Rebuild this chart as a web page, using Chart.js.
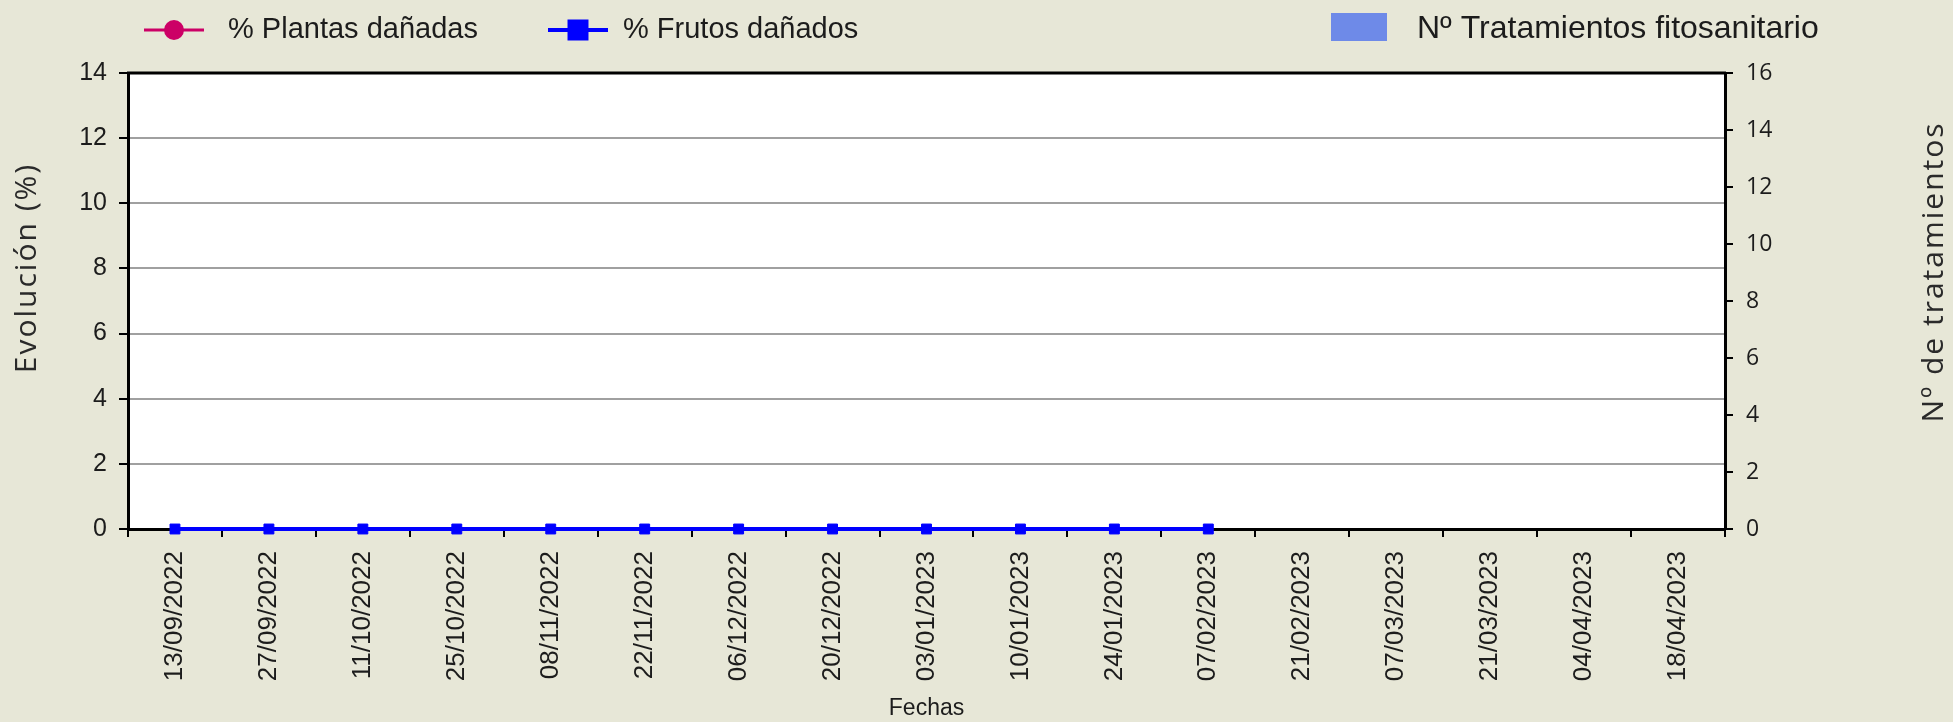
<!DOCTYPE html>
<html>
<head>
<meta charset="utf-8">
<title>Evolución</title>
<script src="https://cdn.jsdelivr.net/npm/chart.js@4.4.1/dist/chart.umd.min.js"></script>
<style>
    html, body { margin: 0; padding: 0; background: #e7e7d7; }
    #wrap { width: 1953px; height: 722px; }
</style>
</head>
<body>
<div id="wrap"><canvas id="evolucionChart" width="1953" height="722"></canvas></div>
<script>
// Datos
const fechas = [
    '13/09/2022', '27/09/2022', '11/10/2022', '25/10/2022', '08/11/2022', '22/11/2022',
    '06/12/2022', '20/12/2022', '03/01/2023', '10/01/2023', '24/01/2023', '07/02/2023',
    '21/02/2023', '07/03/2023', '21/03/2023', '04/04/2023', '18/04/2023'
];
const plantasDanadas = [0, 0, 0, 0, 0, 0, 0, 0, 0, 0, 0, 0, null, null, null, null, null];
const frutosDanados  = [0, 0, 0, 0, 0, 0, 0, 0, 0, 0, 0, 0, null, null, null, null, null];
const tratamientos   = [0, 0, 0, 0, 0, 0, 0, 0, 0, 0, 0, 0, null, null, null, null, null];

const evolucionMax = 14;
const evolucionPaso = 2;
const tratamientosMax = 16;
const tratamientosPaso = 2;

const BG = '#e7e7d7';
const TEXT = '#1c1c1c';

// Fondo del gráfico, borde superior y títulos de los ejes Y
const fondoPlugin = {
    id: 'fondo',
    beforeDraw(chart) {
        const { ctx, chartArea: a } = chart;
        ctx.save();
        ctx.fillStyle = BG;
        ctx.fillRect(0, 0, chart.width, chart.height);
        ctx.fillStyle = '#ffffff';
        ctx.fillRect(a.left, a.top, a.right - a.left, a.bottom - a.top);
        ctx.restore();
    },
    afterDraw(chart) {
        const { ctx, chartArea: a } = chart;
        ctx.save();
        ctx.strokeStyle = '#000000';
        ctx.lineWidth = 3;
        ctx.beginPath();
        ctx.moveTo(a.left - 1, a.top);
        ctx.lineTo(a.right + 1, a.top);
        ctx.stroke();

        ctx.fillStyle = '#2a2a2a';
        ctx.font = '30px "Open Sans", "Noto Sans", sans-serif';
        ctx.letterSpacing = '2px';
        ctx.textAlign = 'center';
        ctx.textBaseline = 'middle';

        ctx.save();
        ctx.translate(27, 268);
        ctx.rotate(-Math.PI / 2);
        ctx.fillText('Evolución (%)', 0, 0);
        ctx.restore();

        ctx.save();
        ctx.translate(1934, 272);
        ctx.rotate(-Math.PI / 2);
        ctx.fillText('Nº de tratamientos', 0, 0);
        ctx.restore();

        ctx.restore();
    }
};

// Leyenda dibujada a mano en la franja superior
const leyendaHuecos = [
    { x: 144, w: 60, gap: 24, font: 29 },
    { x: 548, w: 60, gap: 15, font: 29 },
    { x: 1331, w: 56, gap: 30, font: 32 }
];

const leyendaPlugin = {
    id: 'leyenda',
    afterDraw(chart) {
        const { ctx } = chart;
        const yMid = 30;
        ctx.save();
        chart.data.datasets.forEach((ds, i) => {
            const hueco = leyendaHuecos[i];
            if (!hueco) return;
            if (ds.type === 'bar') {
                ctx.fillStyle = ds.backgroundColor;
                ctx.fillRect(hueco.x, 13, hueco.w, 28);
            } else {
                ctx.strokeStyle = ds.borderColor;
                ctx.lineWidth = ds.borderWidth;
                ctx.beginPath();
                ctx.moveTo(hueco.x, yMid);
                ctx.lineTo(hueco.x + hueco.w, yMid);
                ctx.stroke();
                ctx.fillStyle = ds.pointBackgroundColor;
                ctx.strokeStyle = ds.pointBackgroundColor;
                Chart.helpers.drawPoint(ctx, {
                    pointStyle: ds.pointStyle,
                    rotation: 0,
                    radius: ds.pointStyle === 'rect' ? 12 : 8.5,
                    borderWidth: 1
                }, hueco.x + hueco.w / 2, yMid);
            }
            ctx.fillStyle = TEXT;
            ctx.font = hueco.font + 'px "Liberation Sans", Arial, sans-serif';
            ctx.textAlign = 'left';
            ctx.textBaseline = 'alphabetic';
            ctx.fillText(ds.label, hueco.x + hueco.w + hueco.gap, 38);
        });
        ctx.restore();
    }
};

const ctx = document.getElementById('evolucionChart').getContext('2d');

const evolucionChart = new Chart(ctx, {
    data: {
        labels: fechas,
        datasets: [
            {
                type: 'line',
                label: '% Plantas dañadas',
                data: plantasDanadas,
                yAxisID: 'y',
                borderColor: '#cc0066',
                backgroundColor: '#cc0066',
                borderWidth: 3,
                pointStyle: 'circle',
                pointRadius: 3.5,
                pointBorderWidth: 0,
                pointBackgroundColor: '#cc0066',
                pointBorderColor: '#cc0066',
                tension: 0,
                clip: false,
                order: 1
            },
            {
                type: 'line',
                label: '% Frutos dañados',
                data: frutosDanados,
                yAxisID: 'y',
                borderColor: '#0000ff',
                backgroundColor: '#0000ff',
                borderWidth: 4,
                pointStyle: 'rect',
                pointRadius: 7,
                pointBorderWidth: 1,
                pointBackgroundColor: '#0000ff',
                pointBorderColor: '#0000ff',
                tension: 0,
                clip: false,
                order: 0
            },
            {
                type: 'bar',
                label: 'Nº Tratamientos fitosanitario',
                data: tratamientos,
                yAxisID: 'y1',
                backgroundColor: '#6e8ae8',
                borderWidth: 0,
                order: 2
            }
        ]
    },
    options: {
        responsive: false,
        animation: false,
        devicePixelRatio: 1,
        layout: { padding: { top: 73, left: 0, right: 0, bottom: 0 } },
        plugins: {
            legend: { display: false },
            tooltip: { enabled: false }
        },
        scales: {
            x: {
                type: 'category',
                offset: true,
                afterFit: (scale) => { scale.height = 193; },
                grid: {
                    display: true,
                    offset: true,
                    drawOnChartArea: false,
                    drawTicks: true,
                    tickLength: 8,
                    color: '#000000',
                    lineWidth: 2
                },
                border: { display: true, color: '#000000', width: 3 },
                ticks: {
                    minRotation: 90,
                    maxRotation: 90,
                    autoSkip: false,
                    padding: 14,
                    color: TEXT,
                    font: { family: '"Liberation Sans", Arial, sans-serif', size: 26 }
                },
                title: {
                    display: true,
                    text: 'Fechas',
                    color: TEXT,
                    padding: { top: 0, bottom: 0 },
                    font: { family: '"Liberation Sans", Arial, sans-serif', size: 23 }
                }
            },
            y: {
                position: 'left',
                min: 0,
                max: evolucionMax,
                afterFit: (scale) => { scale.width = 128; },
                grid: {
                    color: '#a0a0a0',
                    lineWidth: 2,
                    tickLength: 9,
                    tickColor: '#000000'
                },
                border: { display: true, color: '#000000', width: 3 },
                ticks: {
                    stepSize: evolucionPaso,
                    padding: 12,
                    color: TEXT,
                    font: { family: '"Liberation Sans", Arial, sans-serif', size: 25 }
                }
            },
            y1: {
                position: 'right',
                min: 0,
                max: tratamientosMax,
                afterFit: (scale) => { scale.width = 228; },
                grid: {
                    drawOnChartArea: false,
                    tickLength: 8,
                    lineWidth: 2,
                    color: '#000000'
                },
                border: { display: true, color: '#000000', width: 3 },
                ticks: {
                    stepSize: tratamientosPaso,
                    padding: 13,
                    color: TEXT,
                    font: { family: '"Open Sans", "Noto Sans", sans-serif', size: 23 }
                }
            }
        }
    },
    plugins: [fondoPlugin, leyendaPlugin]
});
</script>
</body>
</html>
